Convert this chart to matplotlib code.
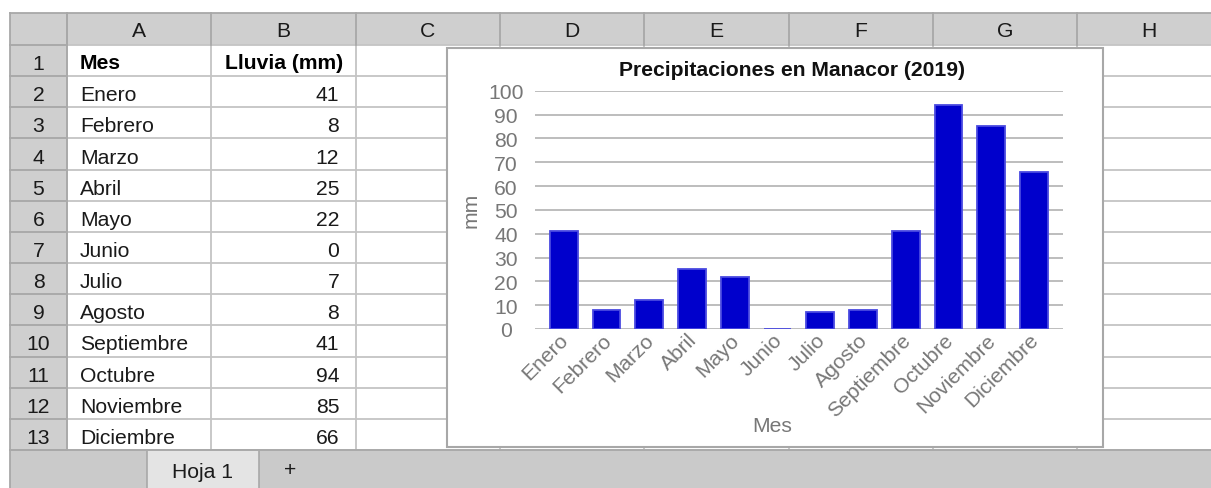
import matplotlib
matplotlib.use("Agg")
import matplotlib.pyplot as plt
import matplotlib.transforms as mtransforms
from matplotlib.patches import Rectangle

plt.rcParams['font.family'] = ['Liberation Sans', 'DejaVu Sans']

months = ["Enero", "Febrero", "Marzo", "Abril", "Mayo", "Junio", "Julio",
          "Agosto", "Septiembre", "Octubre", "Noviembre", "Diciembre"]
rain = [41, 8, 12, 25, 22, 0, 7, 8, 41, 94, 85, 66]
col_letters = ["A", "B", "C", "D", "E", "F", "G", "H"]
header_a = "Mes"
header_b = "Lluvia (mm)"
chart_title = "Precipitaciones en Manacor (2019)"
x_title = "Mes"
y_title = "mm"
sheet_name = "Hoja 1"

FS = 15.2

W, H = 1211, 489
fig = plt.figure(figsize=(W / 100, H / 100), dpi=100)
bg = fig.add_axes([0, 0, 1, 1])
bg.set_xlim(0, W)
bg.set_ylim(H, 0)
bg.axis('off')

# sheet geometry
left = 10
rowhdr_r = 67
col_w = 144.3
top = 14
hdr_b = 46
row_h = 31.15
nrows = 13
grid_bottom = hdr_b + nrows * row_h
col_edges = [rowhdr_r + i * col_w for i in range(len(col_letters) + 1)]

hdr_col = '#cfcfcf'
line_col = '#c4c4c4'
hdr_line = '#a8a8a8'
txt_col = '#1a1a1a'

# header backgrounds
bg.add_patch(Rectangle((left, top), W - left, hdr_b - top, facecolor=hdr_col, edgecolor='none', zorder=1))
bg.add_patch(Rectangle((left, hdr_b), rowhdr_r - left, grid_bottom - hdr_b, facecolor=hdr_col, edgecolor='none', zorder=1))
# tab bar
bg.add_patch(Rectangle((left, grid_bottom), W - left, H - grid_bottom, facecolor='#cacaca', edgecolor='none', zorder=1))
bg.add_patch(Rectangle((147, grid_bottom), 112, H - grid_bottom + 2, facecolor='#e4e4e4', edgecolor='#a8a8a8', lw=1.2, zorder=2))
bg.text(203, 472, sheet_name, ha='center', va='center', fontsize=FS, color=txt_col, zorder=3)
bg.text(290, 471, "+", ha='center', va='center', fontsize=FS, color=txt_col, zorder=3)

# grid lines
for i in range(nrows + 1):
    y = hdr_b + i * row_h
    bg.plot([left, W], [y, y], color=line_col, lw=1.3, zorder=2)
    bg.plot([left, rowhdr_r], [y, y], color=hdr_line, lw=1.3, zorder=2)
for x in col_edges:
    bg.plot([x, x], [hdr_b, grid_bottom], color=line_col, lw=1.3, zorder=2)
    bg.plot([x, x], [top, hdr_b], color=hdr_line, lw=1.3, zorder=2)
bg.plot([left, W], [top, top], color=hdr_line, lw=1.3, zorder=2)
bg.plot([left, left], [top, H], color=hdr_line, lw=1.3, zorder=2)
bg.plot([rowhdr_r, rowhdr_r], [top, grid_bottom], color=hdr_line, lw=1.3, zorder=2)
bg.plot([left, W], [grid_bottom, grid_bottom], color=hdr_line, lw=1.3, zorder=2)

# column letters
for i, c in enumerate(col_letters):
    bg.text((col_edges[i] + col_edges[i + 1]) / 2, (top + hdr_b) / 2 + 1.5, c,
            ha='center', va='center', fontsize=FS, color=txt_col, zorder=3)
# row numbers
for r in range(nrows):
    bg.text((left + rowhdr_r) / 2, hdr_b + (r + 0.5) * row_h + 3, str(r + 1),
            ha='center', va='center', fontsize=FS, color=txt_col, zorder=3)

# cell contents
yc = hdr_b + 0.5 * row_h + 2
bg.text(col_edges[0] + 13, yc, header_a, ha='left', va='center', fontsize=FS, fontweight='bold', color='#000000', zorder=3)
bg.text(col_edges[2] - 12, yc, header_b, ha='right', va='center', fontsize=FS, fontweight='bold', color='#000000', zorder=3)
for i, (m, v) in enumerate(zip(months, rain)):
    yc = hdr_b + (i + 1.5) * row_h + 3
    bg.text(col_edges[0] + 13, yc, m, ha='left', va='center', fontsize=FS, color=txt_col, zorder=3)
    bg.text(col_edges[1] + 128, yc, str(v), ha='right', va='center', fontsize=FS, color=txt_col, zorder=3)

# chart box
bg.add_patch(Rectangle((447, 49), 656, 399, facecolor='white', edgecolor='#a8a8a8', lw=1.5, zorder=4))
bg.text(792, 70, chart_title, ha='center', va='center', fontsize=FS, fontweight='bold', color='#111111', zorder=5)
bg.text(772, 427, x_title, ha='center', va='center', fontsize=FS, color='#777777', zorder=5)
bg.text(471, 210, y_title, ha='center', va='center', fontsize=FS, color='#777777', rotation=90, zorder=5)

# chart axes
pl, pr, pt, pb = 535, 1062.7, 91.7, 330
ax = fig.add_axes([pl / W, (H - pb) / H, (pr - pl) / W, (pb - pt) / H], zorder=10)
ax.patch.set_alpha(0)
xs = list(range(len(months)))
ax.bar(xs, rain, width=0.65, color='#0000cc', edgecolor='#4a4ae0', linewidth=1.3, zorder=3)
ax.set_xlim(-0.673, len(months) - 1 + 0.673)
ax.set_ylim(0, 100)
ax.set_yticks(range(0, 101, 10))
ax.yaxis.grid(True, color='#b8b8b8', lw=1.3)
ax.set_axisbelow(True)
for s in ax.spines.values():
    s.set_visible(False)
ax.tick_params(axis='both', length=0, labelsize=FS, labelcolor='#777777')
ax.tick_params(axis='y', pad=21)
for lbl in ax.get_yticklabels():
    lbl.set_ha('center')
ax.set_xticks(xs)
ax.set_xticklabels(months, rotation=45, ha='right', rotation_mode='anchor')
ax.tick_params(axis='x', pad=2)
shift = mtransforms.ScaledTranslation(-5 / 100, 2 / 100, fig.dpi_scale_trans)
for lbl in ax.get_xticklabels():
    lbl.set_transform(lbl.get_transform() + shift)

fig.savefig("out.png", dpi=100)
